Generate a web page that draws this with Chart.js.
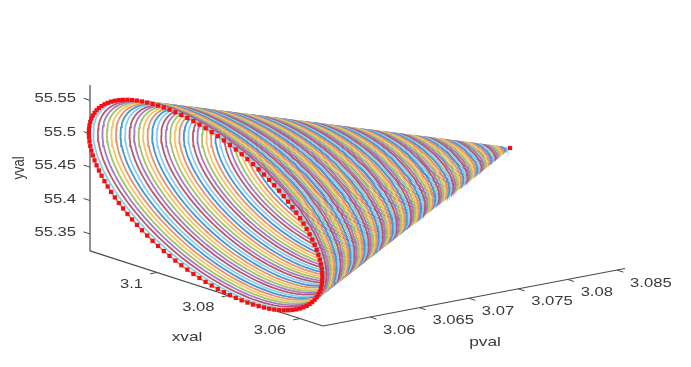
<!DOCTYPE html>
<html>
<head>
<meta charset="utf-8">
<script src="https://cdn.jsdelivr.net/npm/chart.js@4"></script>
<style>
  html, body { margin: 0; background: #fff; }
  canvas { display: block; filter: blur(0.45px); }
</style>
</head>
<body>
<canvas id="chart" width="691" height="367"></canvas>
<script>
// Axis ticks
const pTicks = [3.06, 3.065, 3.07, 3.075, 3.08, 3.085];
const xTicks = [3.06, 3.08, 3.1];
const yTicks = [55.35, 55.4, 55.45, 55.5, 55.55];
const pTickLabels = ['3.06', '3.065', '3.07', '3.075', '3.08', '3.085'];
const xTickLabels = ['3.06', '3.08', '3.1'];
const yTickLabels = ['55.35', '55.4', '55.45', '55.5', '55.55'];

// Axis limits
const pLimits = [3.05524, 3.08581];
const xLimits = [3.05357, 3.11874];
const yLimits = [55.3246, 55.573];

// Red outer rim (at pval = ringP[0])
const rimX = [
  3.11896, 3.11892, 3.11878, 3.11856, 3.11825, 3.11785, 3.11736, 3.11679, 3.11614, 3.1154,
  3.11458, 3.11369, 3.11272, 3.11168, 3.11057, 3.10939, 3.10815, 3.10685, 3.1055, 3.10409,
  3.10263, 3.10113, 3.09958, 3.098, 3.09639, 3.09475, 3.09309, 3.09141, 3.08971, 3.08801,
  3.0863, 3.08459, 3.08289, 3.08119, 3.07951, 3.07785, 3.07621, 3.0746, 3.07302, 3.07147,
  3.06997, 3.06851, 3.0671, 3.06575, 3.06445, 3.06321, 3.06203, 3.06092, 3.05988, 3.05891,
  3.05802, 3.0572, 3.05646, 3.05581, 3.05524, 3.05475, 3.05435, 3.05404, 3.05382, 3.05368,
  3.05364, 3.05368, 3.05382, 3.05404, 3.05435, 3.05475, 3.05524, 3.05581, 3.05646, 3.0572,
  3.05802, 3.05891, 3.05988, 3.06092, 3.06203, 3.06321, 3.06445, 3.06575, 3.0671, 3.06851,
  3.06997, 3.07147, 3.07302, 3.0746, 3.07621, 3.07785, 3.07951, 3.08119, 3.08289, 3.08459,
  3.0863, 3.08801, 3.08971, 3.09141, 3.09309, 3.09475, 3.09639, 3.098, 3.09958, 3.10113,
  3.10263, 3.10409, 3.1055, 3.10685, 3.10815, 3.10939, 3.11057, 3.11168, 3.11272, 3.11369,
  3.11458, 3.1154, 3.11614, 3.11679, 3.11736, 3.11785, 3.11825, 3.11856, 3.11878, 3.11892
];
const rimY = [
  55.5008, 55.5068, 55.5125, 55.5182, 55.5236, 55.5288, 55.5338, 55.5386, 55.5431, 55.5474,
  55.5514, 55.5551, 55.5586, 55.5617, 55.5645, 55.5670, 55.5692, 55.5711, 55.5726, 55.5738,
  55.5746, 55.5752, 55.5753, 55.5751, 55.5746, 55.5737, 55.5725, 55.5709, 55.5691, 55.5668,
  55.5643, 55.5614, 55.5583, 55.5548, 55.5511, 55.5471, 55.5428, 55.5382, 55.5334, 55.5284,
  55.5231, 55.5177, 55.5121, 55.5063, 55.5003, 55.4942, 55.4880, 55.4817, 55.4752, 55.4687,
  55.4622, 55.4556, 55.4490, 55.4424, 55.4359, 55.4293, 55.4228, 55.4164, 55.4101, 55.4039,
  55.3978, 55.3919, 55.3861, 55.3804, 55.3750, 55.3698, 55.3648, 55.3600, 55.3555, 55.3512,
  55.3472, 55.3435, 55.3400, 55.3369, 55.3341, 55.3316, 55.3294, 55.3275, 55.3260, 55.3248,
  55.3240, 55.3235, 55.3233, 55.3235, 55.3240, 55.3249, 55.3261, 55.3277, 55.3296, 55.3318,
  55.3343, 55.3372, 55.3403, 55.3438, 55.3475, 55.3516, 55.3558, 55.3604, 55.3652, 55.3702,
  55.3755, 55.3809, 55.3865, 55.3923, 55.3983, 55.4044, 55.4106, 55.4170, 55.4234, 55.4299,
  55.4364, 55.4430, 55.4496, 55.4562, 55.4627, 55.4693, 55.4758, 55.4822, 55.4885, 55.4947
];

// pval of each ring, outermost first
const ringP = [
  3.0552, 3.05552, 3.05584, 3.05616, 3.05648, 3.0568, 3.05712, 3.05744, 3.05776, 3.05808,
  3.0584, 3.05872, 3.05904, 3.05936, 3.05968, 3.06, 3.06032, 3.06064, 3.06096, 3.06128,
  3.0616, 3.06192, 3.06224, 3.06256, 3.06288, 3.0632, 3.06352, 3.06384, 3.06416, 3.06448,
  3.0648, 3.06512, 3.06544, 3.06576, 3.06608, 3.0664, 3.06672, 3.06704, 3.06736, 3.06768,
  3.068, 3.06832, 3.06864, 3.06896, 3.06928, 3.0696, 3.06992, 3.07024, 3.07056, 3.07088,
  3.0712, 3.07152, 3.07184, 3.07216, 3.07248, 3.0728, 3.07312, 3.07344, 3.07376, 3.07408,
  3.0744, 3.07472, 3.07504, 3.07536, 3.07568, 3.076, 3.07632, 3.07664, 3.07696, 3.07728,
  3.0776, 3.07792, 3.07824, 3.07856, 3.07888, 3.0792, 3.07952, 3.07984, 3.08016, 3.08048,
  3.0808, 3.08112, 3.08144, 3.08176, 3.08208, 3.0824, 3.08272, 3.08304, 3.08336, 3.08368,
  3.084, 3.08432, 3.08464
];

// Tip of the cone
const apexP = 3.085;
const apexX = 3.0835;
const apexY = 55.4557;

// inward from the rim: orange, blue, light blue, dark red, purple, green, yellow
const ringColors = ['#e8926a', '#4596d6', '#86d0f0', '#b9586c', '#a878c4', '#a0c468', '#f5c468'];

// 3D view: pval/xval/yval onto the flat chart plane (one unit = one pixel)
function project(p, x, y) {
  const dp = p - pLimits[0], dx = x - xLimits[0], dy = y - yLimits[0];
  return {
    x: 323 + dp * 9880 - dx * 3575,
    y: 326 - dp * 1880 - dx * 1152 - dy * 668
  };
}

function line(points, color, width) {
  return { data: points, showLine: true, borderColor: color, borderWidth: width, pointRadius: 0, fill: false };
}

// Only the rim is read point by point. The inner rings are the rim shrunk
// towards the tip, because the silhouette edges in the picture are straight.
function ringPoints(p) {
  const s = (apexP - p) / (apexP - ringP[0]);
  const pts = rimX.map((x, i) => project(p, apexX + s * (x - apexX), apexY + s * (rimY[i] - apexY)));
  pts.push(pts[0]);
  return pts;
}

const axisColor = '#4a4a4a';
const datasets = [];

// first dataset is painted last in Chart.js
datasets.push({
  data: rimX.map((x, i) => project(ringP[0], x, rimY[i])).concat([project(apexP, apexX, apexY)]),
  showLine: false,
  pointStyle: 'rect',
  pointRadius: 3,
  pointBackgroundColor: '#f50f14',
  pointBorderWidth: 0
});

// the blue of the first cycle is not seen next to the rim, so ring 1 is light blue
ringP.forEach((p, i) => {
  const color = i === 0 ? ringColors[0] : ringColors[(i + 1) % ringColors.length];
  datasets.push(line(ringPoints(p), color, 1.8));
});

// axis lines
const [p0, p1] = pLimits, [x0, x1] = xLimits, [y0, y1] = yLimits;
datasets.push(line([project(p0, x1, y1), project(p0, x1, y0)], axisColor, 1.2));
datasets.push(line([project(p0, x1, y0), project(p0, x0, y0)], axisColor, 1.2));
datasets.push(line([project(p0, x0, y0), project(p1, x0, y0)], axisColor, 1.2));

// tick marks
yTicks.forEach(v => datasets.push(line([project(p0, x1, v), project(p0, x1 + 0.0018, v)], axisColor, 1)));
xTicks.forEach(v => datasets.push(line([project(p0, v, y0), project(p0 - 0.0007, v, y0)], axisColor, 1)));
pTicks.forEach(v => datasets.push(line([project(v, x0, y0), project(v, x0 - 0.0018, y0)], axisColor, 1)));

function stretchedText(ctx, text, px, py, align, size, vertical) {
  ctx.save();
  ctx.translate(px, py);
  ctx.scale(1.33, 1);
  if (vertical) ctx.rotate(-Math.PI / 2);
  ctx.font = size + 'px "Liberation Sans"';
  ctx.fillStyle = '#3a3a3a';
  ctx.textAlign = align;
  ctx.textBaseline = 'middle';
  ctx.fillText(text, 0, 0);
  ctx.restore();
}

const axisText = {
  id: 'axisText',
  afterDraw(chart) {
    const ctx = chart.ctx;
    const sx = chart.scales.x, sy = chart.scales.y;
    const at = pt => [sx.getPixelForValue(pt.x), sy.getPixelForValue(pt.y)];

    yTicks.forEach((v, i) => {
      const [a, b] = at(project(p0, x1, v));
      stretchedText(ctx, yTickLabels[i], a - 14, b - 1.5, 'right', 12.5);
    });
    xTicks.forEach((v, i) => {
      const [a, b] = at(project(p0, v, y0));
      stretchedText(ctx, xTickLabels[i], a - 14, b + 12, 'right', 12.5);
    });
    pTicks.forEach((v, i) => {
      const [a, b] = at(project(v, x0, y0));
      stretchedText(ctx, pTickLabels[i], a + 13, b + 13, 'left', 12.5);
    });
    stretchedText(ctx, 'xval', 187, 337, 'center', 13);
    stretchedText(ctx, 'pval', 485, 342, 'center', 13);
    stretchedText(ctx, 'yval', 19, 168, 'center', 13, true);
  }
};

new Chart(document.getElementById('chart'), {
  type: 'scatter',
  data: { datasets },
  plugins: [axisText],
  options: {
    responsive: false,
    animation: false,
    layout: { padding: 0, autoPadding: false },
    plugins: { legend: { display: false }, tooltip: { enabled: false } },
    scales: {
      x: { type: 'linear', min: 0, max: 691, display: false },
      y: { type: 'linear', min: 0, max: 367, reverse: true, display: false }
    }
  }
});
</script>
</body>
</html>
